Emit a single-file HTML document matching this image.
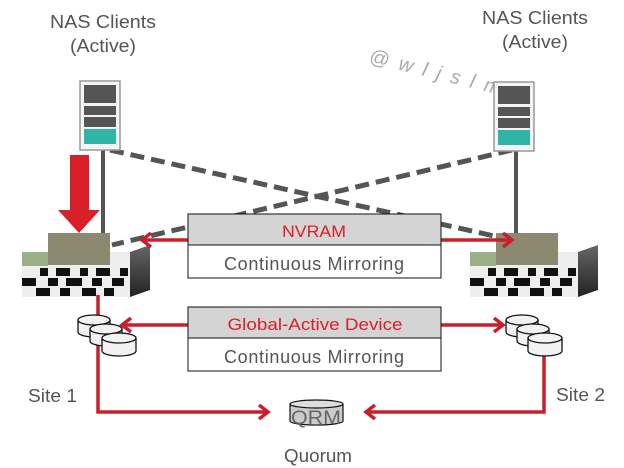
<!DOCTYPE html>
<html><head><style>
body{margin:0;background:#fff;}
svg{display:block;font-family:"Liberation Sans",sans-serif;}
</style></head><body>
<svg width="624" height="468" viewBox="0 0 624 468" xmlns="http://www.w3.org/2000/svg">
<defs>
<marker id="ah" markerWidth="14" markerHeight="16" refX="11" refY="8" orient="auto" markerUnits="userSpaceOnUse">
<path d="M2,1 L11,8 L2,15" fill="none" stroke="#c8202a" stroke-width="3.5"/>
</marker>
<linearGradient id="st" x1="0" y1="0" x2="0" y2="1"><stop offset="0" stop-color="#666"/><stop offset="1" stop-color="#222"/></linearGradient>
</defs>
<text x="103" y="28" font-size="18" fill="#555" text-anchor="middle" textLength="106" lengthAdjust="spacingAndGlyphs">NAS Clients</text>
<text x="103" y="52" font-size="18" fill="#555" text-anchor="middle" textLength="66" lengthAdjust="spacingAndGlyphs">(Active)</text>
<text x="535" y="24" font-size="18" fill="#555" text-anchor="middle" textLength="106" lengthAdjust="spacingAndGlyphs">NAS Clients</text>
<text x="535" y="48" font-size="18" fill="#555" text-anchor="middle" textLength="66" lengthAdjust="spacingAndGlyphs">(Active)</text>
<text x="368" y="62" font-size="20" fill="#aaa" transform="rotate(14 368 62)" font-style="italic" textLength="135" lengthAdjust="spacing">@ w l j s l m</text>

<line x1="110" y1="150" x2="512" y2="240" stroke="#555" stroke-width="5" stroke-dasharray="14,7"/>
<line x1="512" y1="150" x2="112" y2="245" stroke="#555" stroke-width="5" stroke-dasharray="14,7"/>
<line x1="103" y1="148" x2="103" y2="245" stroke="#555" stroke-width="4"/>
<line x1="516" y1="148" x2="516" y2="245" stroke="#555" stroke-width="4"/>

<g>
<rect x="80" y="81" width="40" height="69" fill="#f4f4f4" stroke="#999" stroke-width="1.5"/>
<rect x="84" y="85" width="32" height="18" fill="#555"/>
<rect x="84" y="106" width="32" height="9" fill="#555"/>
<rect x="84" y="117" width="32" height="10" fill="#555"/>
<rect x="84" y="129" width="32" height="15" fill="#2fb5a5"/>
</g>
<g>
<rect x="494" y="82" width="40" height="69" fill="#f4f4f4" stroke="#999" stroke-width="1.5"/>
<rect x="498" y="86" width="32" height="18" fill="#555"/>
<rect x="498" y="107" width="32" height="9" fill="#555"/>
<rect x="498" y="118" width="32" height="10" fill="#555"/>
<rect x="498" y="130" width="32" height="15" fill="#2fb5a5"/>
</g>

<rect x="70" y="155" width="19" height="56" fill="#d9202a"/>
<polygon points="58,210 100,210 79,233" fill="#d9202a"/>

<g>
<polygon points="22,252 130,252 150,245 150,290 130,297 22,297" fill="url(#st)"/>
<rect x="22" y="252" width="108" height="45" fill="#eee"/>
<rect x="22" y="252" width="26" height="14" fill="#9ab088"/>
<g fill="#111">
<rect x="40" y="268" width="8" height="8"/><rect x="56" y="268" width="14" height="8"/><rect x="80" y="268" width="8" height="8"/><rect x="96" y="268" width="14" height="8"/><rect x="120" y="268" width="8" height="8"/>
<rect x="22" y="278" width="14" height="8"/><rect x="48" y="278" width="10" height="8"/><rect x="66" y="278" width="16" height="8"/><rect x="92" y="278" width="10" height="8"/><rect x="112" y="278" width="12" height="8"/>
<rect x="36" y="288" width="14" height="8"/><rect x="60" y="288" width="10" height="8"/><rect x="82" y="288" width="14" height="8"/><rect x="104" y="288" width="10" height="8"/>
</g>
<rect x="48" y="233" width="62" height="32" fill="#8b8a70"/>
</g>
<g>
<polygon points="470,252 578,252 598,245 598,290 578,297 470,297" fill="url(#st)"/>
<rect x="470" y="252" width="108" height="45" fill="#eee"/>
<rect x="470" y="252" width="26" height="14" fill="#9ab088"/>
<g fill="#111">
<rect x="488" y="268" width="8" height="8"/><rect x="504" y="268" width="14" height="8"/><rect x="528" y="268" width="8" height="8"/><rect x="544" y="268" width="14" height="8"/><rect x="568" y="268" width="8" height="8"/>
<rect x="470" y="278" width="14" height="8"/><rect x="496" y="278" width="10" height="8"/><rect x="514" y="278" width="16" height="8"/><rect x="540" y="278" width="10" height="8"/><rect x="560" y="278" width="12" height="8"/>
<rect x="484" y="288" width="14" height="8"/><rect x="508" y="288" width="10" height="8"/><rect x="530" y="288" width="14" height="8"/><rect x="552" y="288" width="10" height="8"/>
</g>
<rect x="496" y="233" width="62" height="32" fill="#8b8a70"/>
</g>

<g stroke="#c8202a" stroke-width="3.5" fill="none">
<line x1="188" y1="240" x2="142" y2="240" marker-end="url(#ah)"/>
<line x1="441" y1="240" x2="512" y2="240" marker-end="url(#ah)"/>
<line x1="188" y1="325" x2="122" y2="325" marker-end="url(#ah)"/>
<line x1="441" y1="325" x2="503" y2="325" marker-end="url(#ah)"/>
<polyline points="98,295 98,412 268,412" marker-end="url(#ah)"/>
<polyline points="544,355 544,412 366,412" marker-end="url(#ah)"/>
</g>

<g fill="#f2f2f2" stroke="#111" stroke-width="1.3">
<path d="M78,320 v12 a16,5 0 0 0 32,0 v-12"/><ellipse cx="94" cy="320" rx="16" ry="5"/>
<path d="M90,329 v12 a16,5 0 0 0 32,0 v-12"/><ellipse cx="106" cy="329" rx="16" ry="5"/>
<path d="M102,338 v13 a17,5 0 0 0 34,0 v-13"/><ellipse cx="119" cy="338" rx="17" ry="5"/>
<path d="M506,320 v12 a16,5 0 0 0 32,0 v-12"/><ellipse cx="522" cy="320" rx="16" ry="5"/>
<path d="M517,329 v12 a16,5 0 0 0 32,0 v-12"/><ellipse cx="533" cy="329" rx="16" ry="5"/>
<path d="M528,338 v13 a17,5 0 0 0 34,0 v-13"/><ellipse cx="545" cy="338" rx="17" ry="5"/>
</g>

<rect x="188" y="214" width="253" height="31" fill="#d4d4d4" stroke="#111" stroke-width="1"/>
<rect x="188" y="245" width="253" height="33" fill="#fff" stroke="#111" stroke-width="1"/>
<text x="314" y="237" font-size="17" fill="#d9202a" text-anchor="middle" textLength="64" lengthAdjust="spacingAndGlyphs">NVRAM</text>
<text x="314" y="270" font-size="18" fill="#555" text-anchor="middle" textLength="180" lengthAdjust="spacing">Continuous  Mirroring</text>
<rect x="188" y="307" width="253" height="31" fill="#d4d4d4" stroke="#111" stroke-width="1"/>
<rect x="188" y="338" width="253" height="33" fill="#fff" stroke="#111" stroke-width="1"/>
<text x="315" y="330" font-size="17" fill="#d9202a" text-anchor="middle" textLength="175" lengthAdjust="spacingAndGlyphs">Global-Active Device</text>
<text x="314" y="363" font-size="18" fill="#555" text-anchor="middle" textLength="180" lengthAdjust="spacing">Continuous  Mirroring</text>

<path d="M290,404 v17 a26,4 0 0 0 53,0 v-17" fill="#ccc" stroke="#111" stroke-width="1.2"/>
<ellipse cx="316.5" cy="404" rx="26.5" ry="4" fill="#ddd" stroke="#111" stroke-width="1.2"/>
<text x="316" y="424" font-size="19" fill="#666" text-anchor="middle" textLength="50" lengthAdjust="spacingAndGlyphs">QRM</text>

<text x="28" y="402" font-size="18" fill="#555" textLength="49" lengthAdjust="spacingAndGlyphs">Site 1</text>
<text x="556" y="401" font-size="18" fill="#555" textLength="49" lengthAdjust="spacingAndGlyphs">Site 2</text>
<text x="318" y="462" font-size="18" fill="#555" text-anchor="middle" textLength="68" lengthAdjust="spacingAndGlyphs">Quorum</text>
</svg>
</body></html>
